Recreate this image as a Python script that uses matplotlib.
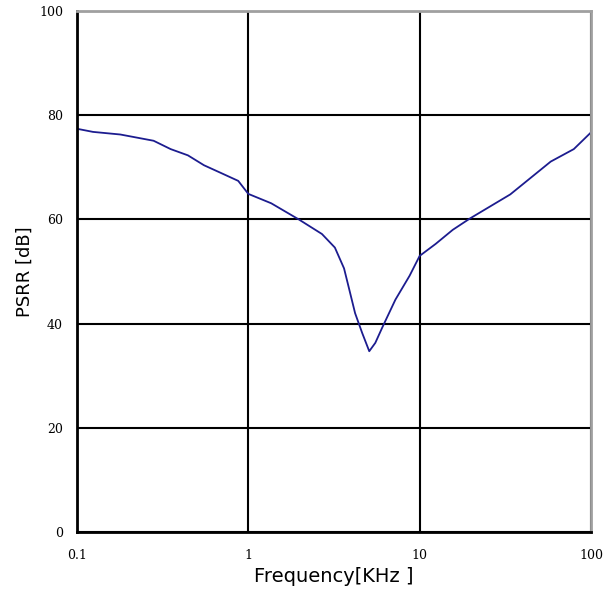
import matplotlib
matplotlib.use("Agg")
import matplotlib.pyplot as plt

freq_khz = [0.1, 0.124, 0.179, 0.28, 0.352, 0.444, 0.551, 0.694, 0.873, 1.0,
            1.36, 1.97, 2.69, 3.2, 3.62, 3.88, 4.2, 4.62, 5.08, 5.51,
            6.06, 7.22, 8.74, 10.0, 12.4, 15.6, 19.7, 33.8, 58.2, 79.4, 100.0]
psrr_db = [77.4, 76.8, 76.3, 75.1, 73.5, 72.3, 70.4, 68.9, 67.4, 64.9,
           63.1, 60.0, 57.2, 54.6, 50.6, 46.6, 42.0, 38.2, 34.7, 36.3,
           39.3, 44.6, 49.2, 53.0, 55.3, 58.0, 60.2, 64.8, 71.1, 73.5, 76.7]

x_ticks = [0.1, 1, 10, 100]
x_labels = ["0.1", "1", "10", "100"]
y_ticks = [0, 20, 40, 60, 80, 100]

fig = plt.figure(figsize=(6.14, 6.06), dpi=100)
ax = fig.add_axes([0.1254, 0.1221, 0.8371, 0.8597])

ax.plot(freq_khz, psrr_db, color="#1c1c8f", linewidth=1.3)

ax.set_xscale("log")
ax.set_xlim(0.1, 100)
ax.set_ylim(0, 100)
ax.set_xticks(x_ticks, x_labels)
ax.set_yticks(y_ticks)
ax.minorticks_off()
ax.tick_params(axis="x", length=0, pad=12, labelsize=9)
ax.tick_params(axis="y", length=0, pad=10, labelsize=9)
for lab in ax.get_xticklabels() + ax.get_yticklabels():
    lab.set_fontfamily("DejaVu Serif")

ax.grid(True, color="black", linewidth=1.5)

for side in ["left", "bottom"]:
    ax.spines[side].set_linewidth(2)
    ax.spines[side].set_color("black")
for side in ["top", "right"]:
    ax.spines[side].set_linewidth(2)
    ax.spines[side].set_color("#a0a0a0")

ax.set_xlabel("Frequency[KHz ]", fontsize=14, labelpad=4)
ax.set_ylabel("PSRR [dB]", fontsize=13, labelpad=4)

fig.savefig("out.png", dpi=100)
